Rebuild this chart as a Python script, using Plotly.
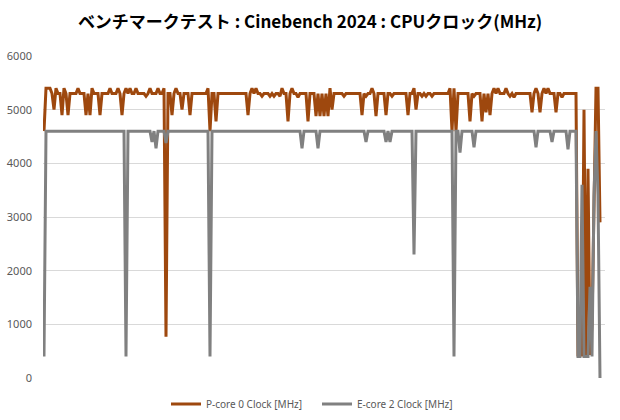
import plotly.graph_objects as go

title_text = "ベンチマークテスト : Cinebench 2024 : CPUクロック(MHz)"
series_names = ["P-core 0 Clock [MHz]", "E-core 2 Clock [MHz]"]
y_ticks = [0, 1000, 2000, 3000, 4000, 5000, 6000]
y_tick_labels = ["0", "1000", "2000", "3000", "4000", "5000", "6000"]

p_core0 = [
    4600, 5400, 5400, 5400, 5300, 5000, 5400, 5300, 5300, 4900, 5400, 5300, 4900, 5300, 5300, 5300, 5300, 5400, 5300, 5300,
    5300, 4900, 5300, 4900, 5400, 5300, 5300, 5300, 4900, 5300, 5300, 5300, 5300, 5400, 5300, 5300, 5300, 5400, 5300, 4900,
    5300, 5400, 5300, 5400, 5300, 5300, 5400, 5300, 5300, 5300, 5300, 5250, 5300, 5400, 5300, 5300, 5300, 5400, 5300, 5300,
    5400, 770, 5300, 5300, 4900, 5300, 5400, 5300, 5300, 5000, 5300, 5300, 5300, 4900, 5300, 5300, 5300, 5300, 5300, 5300,
    5300, 5300, 5400, 4600, 5300, 5300, 4780, 5300, 5300, 5300, 5300, 5300, 5300, 5300, 5300, 5300, 5300, 5300, 5300, 5300,
    5300, 5300, 4900, 5300, 5400, 5300, 5400, 5300, 5300, 5250, 5300, 5300, 5300, 5250, 5300, 5250, 5300, 5300, 5250, 5400,
    5300, 5300, 4780, 5300, 5400, 5300, 5300, 5230, 5300, 5300, 5300, 5300, 4780, 5300, 5300, 5300, 4880, 5300, 4880, 5300,
    4880, 5300, 4880, 5400, 5000, 5300, 5300, 5300, 5300, 5300, 5250, 5300, 5300, 5300, 5300, 5300, 5300, 5300, 5300, 4900,
    5300, 5250, 5300, 5300, 5400, 5300, 4880, 5300, 5300, 5300, 5300, 4900, 5300, 5300, 5250, 5300, 5300, 5300, 5300, 5300,
    5300, 5300, 4900, 5300, 5300, 5400, 5000, 5300, 5300, 5250, 5300, 5250, 5300, 5300, 5250, 5300, 5300, 5300, 5300, 5300,
    5300, 5300, 5300, 5400, 4600, 5400, 4600, 5300, 5300, 5300, 5300, 5300, 5300, 4780, 5300, 5250, 5300, 5300, 5300, 4780,
    5300, 4950, 5300, 4900, 5300, 5400, 5300, 5400, 5300, 5300, 5300, 5400, 5300, 5250, 5300, 5230, 5300, 5300, 5300, 5300,
    5300, 5300, 5300, 5300, 4950, 5300, 5400, 5300, 4950, 5300, 5400, 5300, 5400, 5300, 5300, 5300, 4950, 5300, 5300, 5230,
    5300, 5300, 5300, 5300, 5300, 5300, 5300, 430, 430, 430, 5000, 430, 3900, 430, 1000, 3000, 5400, 5400, 2900,
]

e_core2 = [
    400, 4600, 4600, 4600, 4600, 4600, 4600, 4600, 4600, 4600, 4600, 4600, 4600, 4600, 4600, 4600, 4600, 4600, 4600, 4600,
    4600, 4600, 4600, 4600, 4600, 4600, 4600, 4600, 4600, 4600, 4600, 4600, 4600, 4600, 4600, 4600, 4600, 4600, 4600, 4600,
    4600, 400, 4600, 4600, 4600, 4600, 4600, 4600, 4600, 4600, 4600, 4600, 4600, 4600, 4400, 4600, 4280, 4600, 4600, 4600,
    4600, 4380, 4600, 4600, 4600, 4600, 4600, 4600, 4600, 4600, 4600, 4600, 4600, 4600, 4600, 4600, 4600, 4600, 4600, 4600,
    4600, 4600, 4600, 400, 4600, 4600, 4600, 4600, 4600, 4600, 4600, 4600, 4600, 4600, 4600, 4600, 4600, 4600, 4600, 4600,
    4600, 4600, 4600, 4600, 4600, 4600, 4600, 4600, 4600, 4600, 4600, 4600, 4600, 4600, 4600, 4600, 4600, 4600, 4600, 4600,
    4600, 4600, 4600, 4600, 4600, 4600, 4600, 4600, 4600, 4280, 4600, 4600, 4600, 4600, 4600, 4600, 4600, 4280, 4600, 4600,
    4600, 4600, 4600, 4600, 4600, 4600, 4600, 4600, 4600, 4600, 4600, 4600, 4600, 4600, 4600, 4600, 4600, 4600, 4600, 4600,
    4600, 4400, 4600, 4600, 4600, 4600, 4600, 4600, 4600, 4600, 4600, 4400, 4600, 4400, 4600, 4600, 4600, 4600, 4600, 4600,
    4600, 4600, 4600, 4600, 4600, 2300, 4600, 4600, 4600, 4600, 4600, 4600, 4600, 4600, 4600, 4600, 4600, 4600, 4600, 4600,
    4600, 4600, 4600, 4600, 4600, 400, 4600, 4600, 4200, 4600, 4600, 4600, 4600, 4600, 4600, 4300, 4600, 4600, 4600, 4600,
    4600, 4600, 4600, 4600, 4600, 4600, 4600, 4600, 4600, 4600, 4600, 4600, 4600, 4600, 4600, 4600, 4600, 4600, 4600, 4600,
    4600, 4600, 4600, 4600, 4600, 4600, 4300, 4600, 4600, 4600, 4600, 4600, 4600, 4600, 4400, 4600, 4600, 4600, 4600, 4600,
    4600, 4600, 4260, 4600, 4600, 4600, 4600, 400, 400, 3600, 400, 400, 400, 1700, 400, 3400, 4600, 3400, 0,
]

samples = list(range(len(p_core0)))

fig = go.Figure()
fig.add_trace(go.Scatter(
    x=samples, y=p_core0, mode="lines", name=series_names[0],
    line=dict(color="#9E480E", width=3), hoverinfo="skip",
))
fig.add_trace(go.Scatter(
    x=samples, y=e_core2, mode="lines", name=series_names[1],
    line=dict(color="#808080", width=3), hoverinfo="skip",
))

fig.update_layout(
    width=620, height=420,
    margin=dict(l=43, r=15, t=56, b=42, autoexpand=False),
    paper_bgcolor="white", plot_bgcolor="white",
    font=dict(family="Noto Sans CJK JP", color="#595959"),
    title=dict(
        text=title_text, x=0.5, xanchor="center", xref="container",
        y=1 - 22 / 420, yanchor="middle", yref="container",
        font=dict(family="Noto Sans CJK JP", size=17, color="#000000", weight=700),
    ),
    xaxis=dict(
        range=[-0.5, len(p_core0) + 1.5], showticklabels=False, showgrid=False,
        zeroline=False, showline=False, fixedrange=True, automargin=False,
    ),
    yaxis=dict(
        range=[0, 6000], tickvals=y_ticks, ticktext=y_tick_labels,
        showgrid=True, gridcolor="#D9D9D9", gridwidth=1, zeroline=False,
        showline=False, ticks="", ticklabelstandoff=10, automargin=False,
        tickfont=dict(family="Noto Sans", size=11, color="#595959"),
    ),
    legend=dict(
        orientation="h", xref="container", x=166 / 620, xanchor="left",
        yref="container", y=1 - 404 / 420, yanchor="middle",
        font=dict(family="Noto Sans", size=10, color="#595959"),
        bgcolor="rgba(0,0,0,0)", entrywidth=106,
    ),
    showlegend=True,
)

fig.write_html("out.html")
